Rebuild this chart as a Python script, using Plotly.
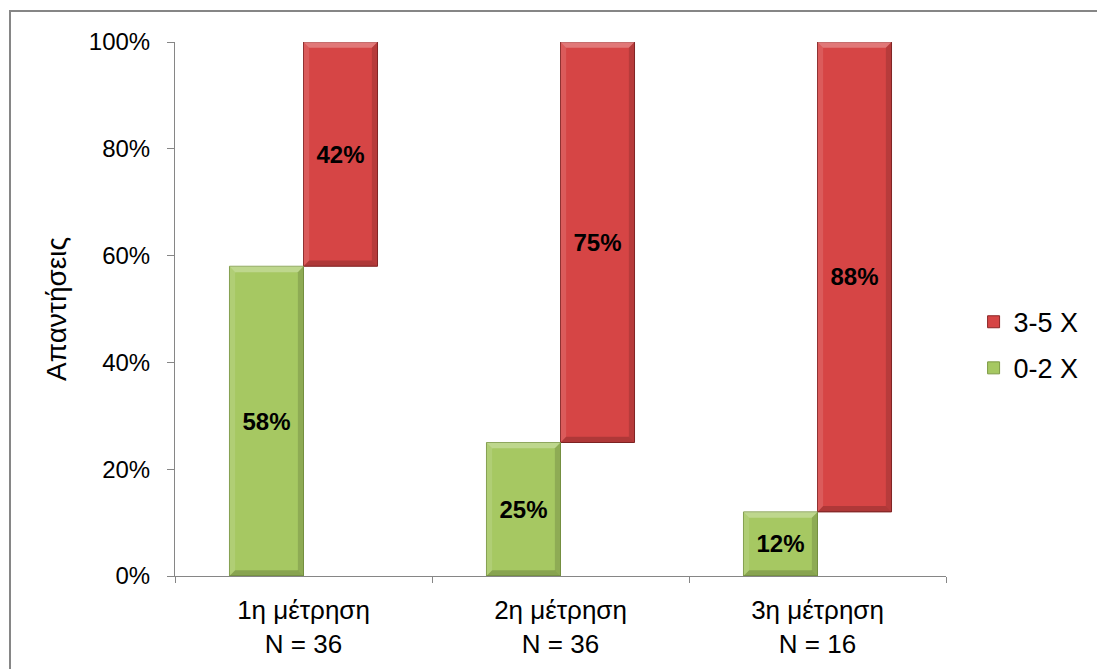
import plotly.graph_objects as go

categories = ["1η μέτρηση<br>N = 36", "2η μέτρηση<br>N = 36", "3η μέτρηση<br>N = 16"]
low_share = [58, 25, 12]     # 0-2 X
high_share = [42, 75, 88]    # 3-5 X
series_names = ["0-2 X", "3-5 X"]
y_ticks = [0, 20, 40, 60, 80, 100]

FONT = "Liberation Sans, Arial, sans-serif"
GREEN = "#a6c862"
GREEN_EDGE = "#7d9a45"
RED = "#d64545"
RED_EDGE = "#8a2626"
AXIS = "#868686"
BAR_W = 0.288

fig = go.Figure()

label_font = dict(family=FONT, size=24, color="black", weight="bold")

fig.add_trace(go.Bar(
    x=categories, y=high_share, base=low_share,
    name=series_names[1], legendgroup="high",
    width=BAR_W, offset=0,
    marker=dict(color=RED, line=dict(color=RED_EDGE, width=1)),
    text=[f"{v}%" for v in high_share],
    textposition="inside", insidetextanchor="middle",
    textfont=label_font, textangle=0,
))

fig.add_trace(go.Bar(
    x=categories, y=low_share, base=[0] * len(low_share),
    name=series_names[0], legendgroup="low",
    width=BAR_W, offset=-BAR_W,
    marker=dict(color=GREEN, line=dict(color=GREEN_EDGE, width=1)),
    text=[f"{v}%" for v in low_share],
    textposition="inside", insidetextanchor="middle",
    textfont=label_font, textangle=0,
))


def bevel(x0, x1, y0, y1):
    """Light top/left and dark bottom/right bevel edges on a bar."""
    ex, ey = 0.022, 1.1
    fig.add_shape(type="path", xref="x", yref="y", layer="above", line=dict(width=0),
                  fillcolor="rgba(255,255,255,0.28)",
                  path=f"M{x0},{y1} L{x1},{y1} L{x1-ex},{y1-ey} L{x0+ex},{y1-ey} Z")
    fig.add_shape(type="path", xref="x", yref="y", layer="above", line=dict(width=0),
                  fillcolor="rgba(255,255,255,0.12)",
                  path=f"M{x0},{y0} L{x0},{y1} L{x0+ex},{y1-ey} L{x0+ex},{y0+ey} Z")
    fig.add_shape(type="path", xref="x", yref="y", layer="above", line=dict(width=0),
                  fillcolor="rgba(0,0,0,0.14)",
                  path=f"M{x1},{y0} L{x1},{y1} L{x1-ex},{y1-ey} L{x1-ex},{y0+ey} Z")
    fig.add_shape(type="path", xref="x", yref="y", layer="above", line=dict(width=0),
                  fillcolor="rgba(0,0,0,0.18)",
                  path=f"M{x0},{y0} L{x1},{y0} L{x1-ex},{y0+ey} L{x0+ex},{y0+ey} Z")


for i, (lo, hi) in enumerate(zip(low_share, high_share)):
    bevel(i - BAR_W, i, 0, lo)
    bevel(i, i + BAR_W, lo, lo + hi)

# outer chart frame
fig.add_shape(type="rect", xref="paper", yref="paper",
              x0=-0.214, x1=1.3, y0=-0.3, y1=1.058,
              line=dict(color=AXIS, width=2), fillcolor="rgba(0,0,0,0)")

fig.update_layout(
    width=1097, height=669,
    margin=dict(l=175, r=151, t=42, b=93, autoexpand=False),
    paper_bgcolor="white", plot_bgcolor="white",
    barmode="overlay",
    font=dict(family=FONT, size=24, color="black"),
    showlegend=True,
    legend=dict(xref="container", yref="container",
                x=0.8875, y=0.484, xanchor="left", yanchor="middle",
                traceorder="grouped", tracegroupgap=8, itemwidth=30,
                font=dict(size=27), bgcolor="rgba(0,0,0,0)"),
    xaxis=dict(
        type="category", range=[-0.5, 2.5],
        showline=True, linecolor=AXIS, linewidth=1,
        ticks="outside", tickson="boundaries", ticklen=6, tickcolor=AXIS,
        showgrid=False, tickfont=dict(size=26), ticklabelstandoff=11,
    ),
    yaxis=dict(
        range=[0, 100], tickvals=y_ticks, ticktext=[f"{v}%" for v in y_ticks],
        showline=True, linecolor=AXIS, linewidth=1,
        ticks="outside", ticklen=7, tickcolor=AXIS,
        showgrid=False, zeroline=False, tickfont=dict(size=24),
        ticklabelstandoff=12,
        title=dict(text="Απαντήσεις", font=dict(size=28), standoff=14),
    ),
)

fig.write_html("out.html")
